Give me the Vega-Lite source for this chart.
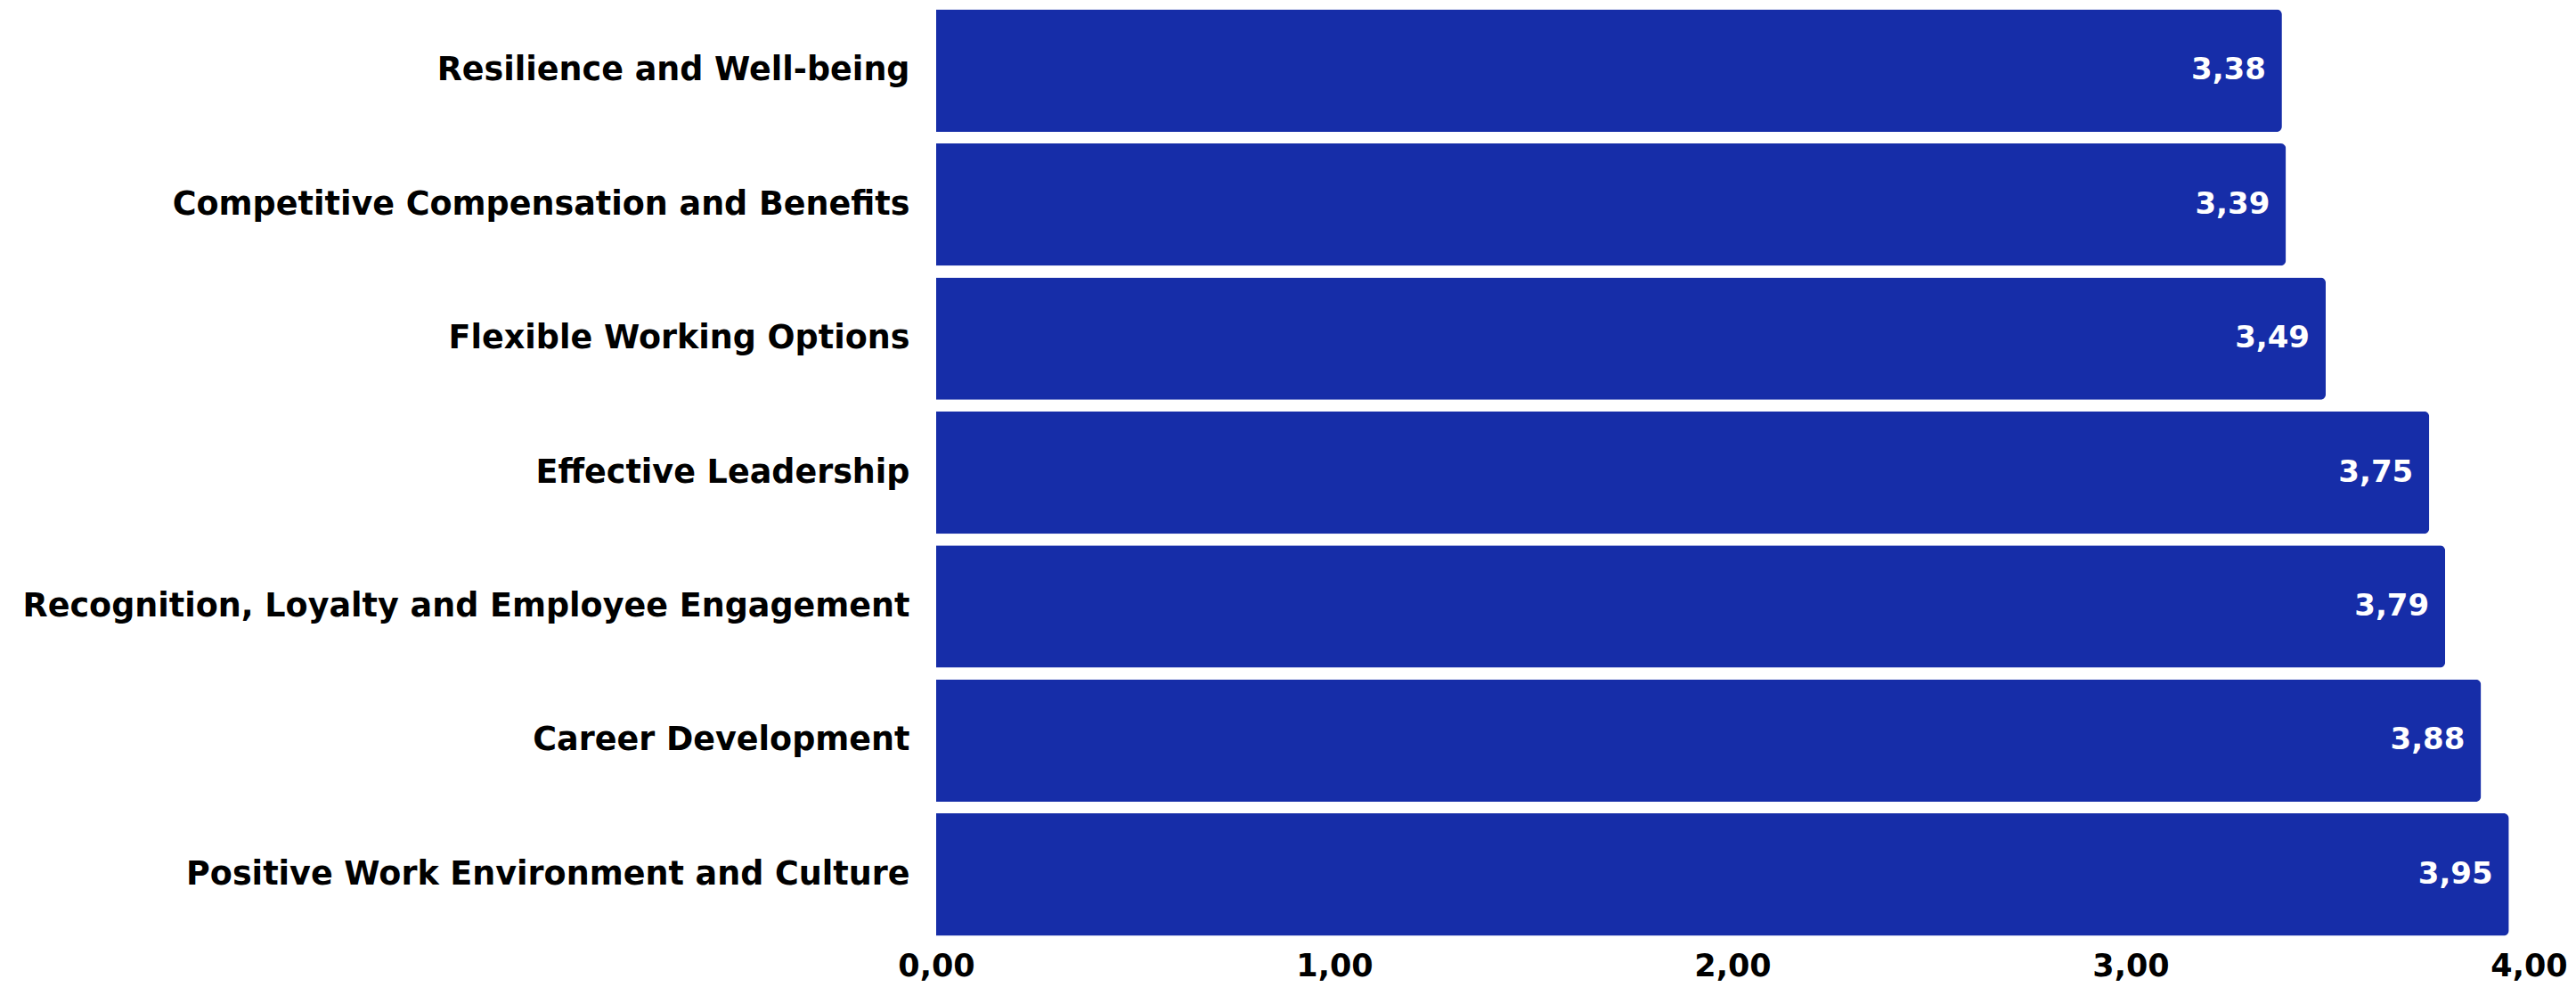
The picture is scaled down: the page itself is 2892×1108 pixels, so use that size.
{
  "$schema": "https://vega.github.io/schema/vega-lite/v6.json",
  "autosize": {"type": "none"},
  "padding": {"left": 1051, "top": 4, "right": 53, "bottom": 51},
  "width": 1788,
  "height": 1053,
  "background": "white",
  "config": {
    "view": {"stroke": null},
    "locale": {"number": {"decimal": ",", "thousands": ".", "grouping": [3], "currency": ["", " €"]}},
    "font": "DejaVu Sans"
  },
  "data": {
    "values": [
      {"category": "Resilience and Well-being", "score": 3.38},
      {"category": "Competitive Compensation and Benefits", "score": 3.39},
      {"category": "Flexible Working Options", "score": 3.49},
      {"category": "Effective Leadership", "score": 3.75},
      {"category": "Recognition, Loyalty and Employee Engagement", "score": 3.79},
      {"category": "Career Development", "score": 3.88},
      {"category": "Positive Work Environment and Culture", "score": 3.95}
    ]
  },
  "encoding": {
    "y": {
      "field": "category",
      "type": "nominal",
      "sort": null,
      "scale": {"paddingInner": 0.087, "paddingOuter": 0.0435},
      "axis": {
        "title": null,
        "domain": false,
        "ticks": false,
        "labelPadding": 30,
        "labelLimit": 1100,
        "labelFont": "DejaVu Sans",
        "labelFontSize": 36.5,
        "labelFontWeight": 700,
        "labelColor": "#000000"
      }
    },
    "x": {
      "field": "score",
      "type": "quantitative",
      "scale": {"domain": [0, 4], "nice": false},
      "axis": {
        "title": null,
        "domain": false,
        "ticks": false,
        "grid": false,
        "values": [0, 1, 2, 3, 4],
        "format": ".2f",
        "labelPadding": 10,
        "labelFont": "DejaVu Sans",
        "labelFontSize": 35,
        "labelFontWeight": 700,
        "labelColor": "#000000",
        "labelFlush": false,
        "labelOverlap": false
      }
    }
  },
  "layer": [
    {
      "mark": {"type": "bar", "color": "#162DA8", "cornerRadiusEnd": 6}
    },
    {
      "mark": {"type": "text", "align": "right", "baseline": "middle", "dx": -18, "color": "white", "font": "DejaVu Sans", "fontSize": 34, "fontWeight": 700},
      "encoding": {
        "text": {"field": "score", "type": "quantitative", "format": ".2f"}
      }
    }
  ]
}
